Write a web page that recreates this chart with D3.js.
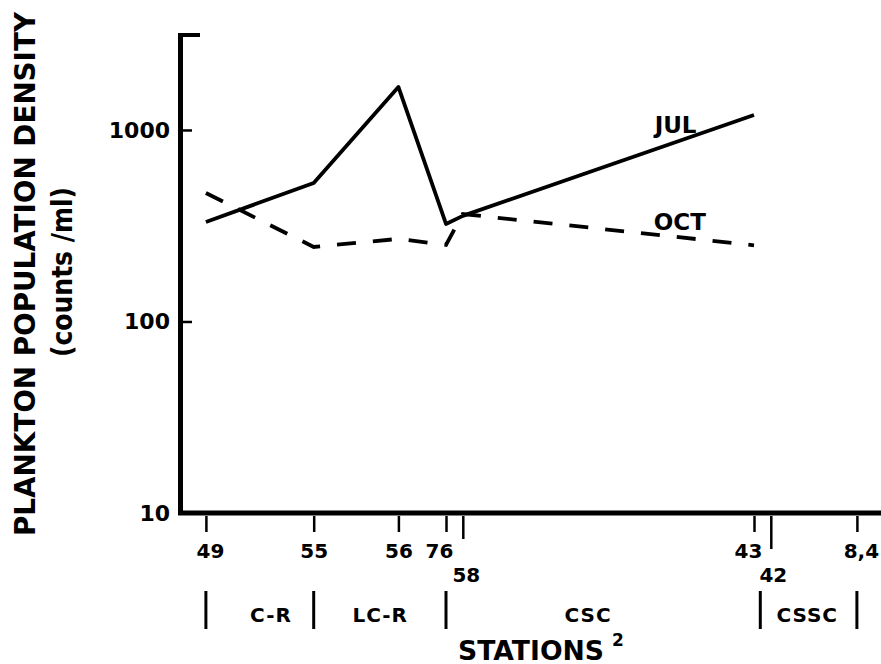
<!DOCTYPE html>
<html><head><meta charset="utf-8">
<script src="https://cdn.jsdelivr.net/npm/d3@7"></script>
<style>
body{margin:0;background:#fff}
svg{display:block;background:#fff}
text{font-family:"DejaVu Sans",sans-serif;font-weight:bold;fill:#000}
</style>
</head><body>
<svg id="chart" width="881" height="664"></svg>
<script>
// ---- data ----
const stations = ["49","55","56","76","58","43","42","8,4"];
const stationDistance = [3.7, 19.1, 31.2, 38.0, 40.4, 82.0, 84.4, 96.7];
const julStations = ["49","55","56","76","58","43"];
const julValues = [331, 528, 1677, 323, 356, 1197];
const octStations = ["49","55","56","76","58","43"];
const octValues = [469, 245, 270, 251, 364, 250];
const yTickValues = [10, 100, 1000];
const yTickLabels = ["10","100","1000"];
const regionNames = ["C-R","LC-R","CSC","CSSC"];
const regionBounds = [[3.7,19.1],[19.1,38.0],[38.0,82.9],[82.9,96.7]];
const regionLabelAt = [13.0, 28.6, 58.3, 89.6];
const seriesNames = ["JUL","OCT"];
const seriesLabelAt = [[70.8, 964], [71.4, 300]];

// ---- scales ----
const svg = d3.select("#chart");
const x = d3.scaleLinear().domain([0,100]).range([180,880]);
const y = d3.scaleLog().domain([10,3170]).range([513,34]);
const distOf = s => stationDistance[stations.indexOf(s)];

// ---- y axis ----
const yAxis = d3.axisLeft(y).tickValues(yTickValues)
  .tickFormat((d,i)=>yTickLabels[i]).tickSizeInner(-12).tickSizeOuter(0).tickPadding(10);
const gy = svg.append("g").attr("transform","translate(180,0)").call(yAxis);
gy.select(".domain").attr("stroke","#000").attr("stroke-width",5);
gy.selectAll(".tick line").attr("stroke","#000").attr("stroke-width",2.5);
gy.selectAll(".tick text").style("font-size","22px").attr("font-family",null).attr("fill","#000");
// cap at top
svg.append("line").attr("x1",178).attr("x2",200).attr("y1",y(3170)+1).attr("y2",y(3170)+1)
  .attr("stroke","#000").attr("stroke-width",4);

// ---- x axis ----
const lowerRow = new Set(["58","42"]);
const tickLen = {"58":26,"42":36};
const labelShift = {"49":4,"76":-7,"43":-6,"42":2,"58":3,"8,4":4};
const xAxis = d3.axisBottom(x).tickValues(stationDistance)
  .tickFormat((d,i)=>stations[i]).tickSizeInner(18).tickSizeOuter(0).tickPadding(12);
const gx = svg.append("g").attr("transform","translate(0,513)").call(xAxis);
gx.select(".domain").remove();
svg.append("line").attr("x1",178).attr("x2",881).attr("y1",513).attr("y2",513)
  .attr("stroke","#000").attr("stroke-width",5);
gx.selectAll(".tick line").attr("stroke","#000").attr("stroke-width",2.5)
  .attr("y1",3).attr("y2",(d,i)=>tickLen[stations[i]]||19);
gx.selectAll(".tick text").style("font-size","20px").attr("font-family",null).attr("fill","#000")
  .attr("dy",null).attr("y",(d,i)=>lowerRow.has(stations[i])?69:45)
  .attr("x",(d,i)=>labelShift[stations[i]]||0);

// ---- region bars and labels ----
const bars = new Set();
regionBounds.forEach(b=>{bars.add(b[0]);bars.add(b[1]);});
svg.append("g").selectAll("line").data([...bars]).join("line")
  .attr("x1",d=>x(d)).attr("x2",d=>x(d)).attr("y1",591).attr("y2",629)
  .attr("stroke","#000").attr("stroke-width",3);
svg.append("g").selectAll("text").data(regionNames).join("text")
  .attr("x",(d,i)=>x(regionLabelAt[i])).attr("y",622).attr("text-anchor","middle")
  .style("font-size","20px").style("letter-spacing","1px").text(d=>d);

// ---- x title ----
svg.append("text").attr("x",458).attr("y",660).style("font-size","27px")
  .attr("textLength",146).attr("lengthAdjust","spacingAndGlyphs").text("STATIONS");
svg.append("text").attr("x",612).attr("y",646).style("font-size","17px").text("2");

// ---- y title ----
svg.append("text").attr("transform","translate(35,274) rotate(-90)").attr("text-anchor","middle")
  .style("font-size","29px").attr("textLength",524).attr("lengthAdjust","spacingAndGlyphs")
  .text("PLANKTON POPULATION DENSITY");
svg.append("text").attr("transform","translate(72,272) rotate(-90)").attr("text-anchor","middle")
  .style("font-size","28px").attr("textLength",170).attr("lengthAdjust","spacingAndGlyphs")
  .text("(counts /ml)");

// ---- lines ----
const line = d3.line().x(d=>x(distOf(d[0]))).y(d=>y(d[1]));
svg.append("path").datum(julStations.map((s,i)=>[s,julValues[i]]))
  .attr("d",line).attr("fill","none").attr("stroke","#000").attr("stroke-width",3.8)
  .attr("stroke-linejoin","round");
svg.append("path").datum(octStations.map((s,i)=>[s,octValues[i]]))
  .attr("d",line).attr("fill","none").attr("stroke","#000").attr("stroke-width",3.8)
  .attr("stroke-dasharray","19,17");

// ---- series labels ----
svg.append("g").selectAll("text").data(seriesNames).join("text")
  .attr("x",(d,i)=>x(seriesLabelAt[i][0])).attr("y",(d,i)=>y(seriesLabelAt[i][1]))
  .attr("text-anchor","middle").style("font-size","23px").text(d=>d);
</script>
</body></html>
